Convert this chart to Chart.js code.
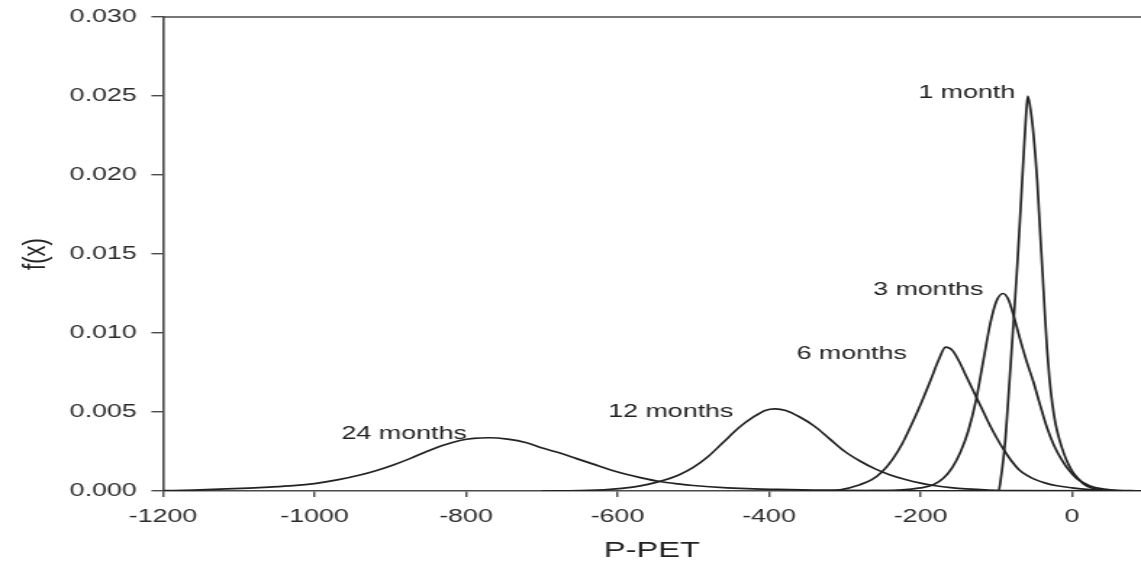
<!DOCTYPE html>
<html>
<head>
<meta charset="utf-8">
<title>f(x) of P-PET</title>
<script src="https://cdn.jsdelivr.net/npm/chart.js@4.4.1/dist/chart.umd.min.js"></script>
<style>
  html, body { margin: 0; padding: 0; background: #fff; }
  #chart { display: block; }
</style>
</head>
<body>
<!-- drawn at 787px wide and shown at 1141px: the original figure is stretched sideways -->
<canvas id="chart" width="787" height="569" style="width:1141px;height:569px;"></canvas>
<script>
// values: [P-PET, f(x)]
const month1 = [
  [-120, 0], [-97, 0], [-94, 0.0008], [-91, 0.0019], [-88, 0.0033], [-84, 0.0060],
  [-80, 0.0088], [-76, 0.0116], [-72, 0.0145], [-68, 0.0178], [-64, 0.0212],
  [-61, 0.0236], [-58.5, 0.0250], [-55, 0.0242], [-51, 0.0226], [-46, 0.0196],
  [-42, 0.0162], [-39, 0.0138], [-36, 0.0113], [-33, 0.0090], [-30, 0.0072],
  [-26, 0.0055], [-22, 0.0043], [-17, 0.0033], [-11, 0.0024], [-5, 0.0017],
  [1, 0.0012], [8, 0.0008], [15, 0.00045], [25, 0.0002], [40, 0.00006],
  [60, 0.00001], [91, 0]
];
const month3 = [
  [-280, 0], [-260, 0.00002], [-230, 0.00006], [-200, 0.0002], [-183, 0.0004],
  [-170, 0.0008], [-158, 0.0015], [-147, 0.0025], [-137, 0.0038], [-127, 0.0057],
  [-117, 0.0083], [-108, 0.0106], [-100, 0.0120], [-91, 0.0125], [-84, 0.0121],
  [-76, 0.0109], [-68, 0.0095], [-60, 0.0082], [-51, 0.0069], [-42, 0.0054],
  [-33, 0.0040], [-24, 0.0029], [-14, 0.0020], [-4, 0.0013], [6, 0.0008],
  [16, 0.0005], [28, 0.00025], [50, 0.00008], [91, 0]
];
const month6 = [
  [-360, 0], [-330, 0.00002], [-306, 0.00008], [-280, 0.0004], [-265, 0.0007],
  [-251, 0.0012], [-237, 0.0020], [-223, 0.0031], [-210, 0.0044], [-198, 0.0057],
  [-186, 0.0071], [-176, 0.0083], [-167, 0.0091], [-158, 0.0089], [-148, 0.0081],
  [-139, 0.0072], [-130, 0.0063], [-120, 0.0053], [-110, 0.0043], [-100, 0.0034],
  [-90, 0.0026], [-80, 0.0019], [-70, 0.00135], [-60, 0.0010], [-50, 0.00075],
  [-35, 0.0005], [-20, 0.00033], [0, 0.0002], [20, 0.0001], [50, 0.00003], [91, 0]
];
const month12 = [
  [-700, 0], [-650, 0.00002], [-610, 0.0001], [-580, 0.00025], [-560, 0.00042],
  [-540, 0.00066], [-520, 0.0010], [-500, 0.0015], [-480, 0.0022], [-460, 0.0031],
  [-440, 0.0040], [-420, 0.0047], [-405, 0.0051], [-392, 0.0052], [-378, 0.0051],
  [-360, 0.0047], [-340, 0.0041], [-320, 0.0033], [-300, 0.0025], [-280, 0.0019],
  [-260, 0.0014], [-240, 0.00102], [-220, 0.00073], [-200, 0.0005], [-180, 0.00033],
  [-160, 0.00021], [-140, 0.00013], [-110, 0.00006], [-70, 0.00002], [91, 0]
];
const month24 = [
  [-1200, 0.00002], [-1160, 0.00006], [-1116, 0.00013], [-1060, 0.00025],
  [-1028, 0.00034], [-1000, 0.00047], [-970, 0.0007], [-940, 0.00101],
  [-918, 0.0013], [-896, 0.00165], [-874, 0.00205], [-852, 0.0025], [-830, 0.0029],
  [-808, 0.0032], [-790, 0.00333], [-770, 0.00337], [-745, 0.00328], [-720, 0.00305],
  [-698, 0.0027], [-676, 0.0024], [-654, 0.00205], [-632, 0.0017], [-610, 0.00135],
  [-590, 0.00108], [-570, 0.00085], [-544, 0.0006], [-520, 0.00045], [-500, 0.00035],
  [-455, 0.0002], [-420, 0.00013], [-389, 0.0001], [-340, 0.00006], [-300, 0.00004],
  [-200, 0.00001], [91, 0]
];

const xTicks = [-1200, -1000, -800, -600, -400, -200, 0];
const yTicks = [0, 0.005, 0.010, 0.015, 0.020, 0.025, 0.030];

// curve names, anchored (right end of the text) in data units
const curveLabels = [
  { text: '1 month', x: -75, y: 0.0252 },
  { text: '3 months', x: -117, y: 0.0127 },
  { text: '6 months', x: -218, y: 0.0087 },
  { text: '12 months', x: -447, y: 0.0050 },
  { text: '24 months', x: -799, y: 0.0036 }
];

const FONT = '"Liberation Sans", Arial, Helvetica, sans-serif';
const INK = '#222';

const toPoints = arr => arr.map(p => ({ x: p[0], y: p[1] }));
const curve = arr => ({
  data: toPoints(arr),
  borderColor: INK,
  borderWidth: 1.7,
  pointRadius: 0,
  fill: false,
  cubicInterpolationMode: 'monotone'
});

// top frame line and the curve names
const annotate = {
  id: 'annotate',
  afterDatasetsDraw(chart) {
    const { ctx, chartArea, scales } = chart;
    ctx.save();
    ctx.strokeStyle = '#4a4a4a';
    ctx.lineWidth = 1.6;
    ctx.beginPath();
    ctx.moveTo(chartArea.left, chartArea.top);
    ctx.lineTo(chartArea.right, chartArea.top);
    ctx.stroke();
    ctx.font = '18.5px ' + FONT;
    ctx.fillStyle = '#222';
    ctx.textAlign = 'right';
    ctx.textBaseline = 'middle';
    curveLabels.forEach(l => {
      ctx.fillText(l.text, scales.x.getPixelForValue(l.x), scales.y.getPixelForValue(l.y));
    });
    ctx.restore();
  }
};

new Chart(document.getElementById('chart'), {
  type: 'line',
  data: {
    datasets: [curve(month1), curve(month3), curve(month6), curve(month12), curve(month24)]
  },
  options: {
    responsive: false,
    devicePixelRatio: 1,
    animation: false,
    layout: { padding: { top: 17, right: 0, bottom: 0, left: 0 } },
    plugins: { legend: { display: false }, tooltip: { enabled: false } },
    scales: {
      x: {
        type: 'linear',
        min: -1200,
        max: 91,
        afterBuildTicks: s => { s.ticks = xTicks.map(v => ({ value: v })); },
        afterFit: s => { s.height = 78; },
        ticks: {
          callback: v => String(v),
          font: { family: FONT, size: 18.5 },
          color: '#2b2b2b',
          padding: 9,
          maxRotation: 0
        },
        grid: { display: true, drawOnChartArea: false, drawTicks: true, tickLength: 6, color: '#4a4a4a', lineWidth: 1.4 },
        border: { display: true, color: '#4a4a4a', width: 1.6 },
        title: {
          display: true,
          text: 'P-PET',
          font: { family: FONT, size: 22.5 },
          color: '#222',
          padding: { top: 0, bottom: 5 }
        }
      },
      y: {
        type: 'linear',
        min: 0,
        max: 0.03,
        afterBuildTicks: s => { s.ticks = yTicks.map(v => ({ value: v })); },
        afterFit: s => { s.width = 112.4; s.paddingTop = 0; s.paddingBottom = 0; },
        ticks: {
          callback: v => v.toFixed(3),
          font: { family: FONT, size: 18.5 },
          color: '#2b2b2b',
          padding: 10
        },
        grid: { display: true, drawOnChartArea: false, drawTicks: true, tickLength: 8, color: '#4a4a4a', lineWidth: 1.4 },
        border: { display: true, color: '#4a4a4a', width: 1.6 },
        title: {
          display: true,
          text: 'f(x)',
          font: { family: FONT, size: 22 },
          color: '#222',
          padding: { top: 11.6, bottom: 0 }
        }
      }
    }
  },
  plugins: [annotate]
});
</script>
</body>
</html>
